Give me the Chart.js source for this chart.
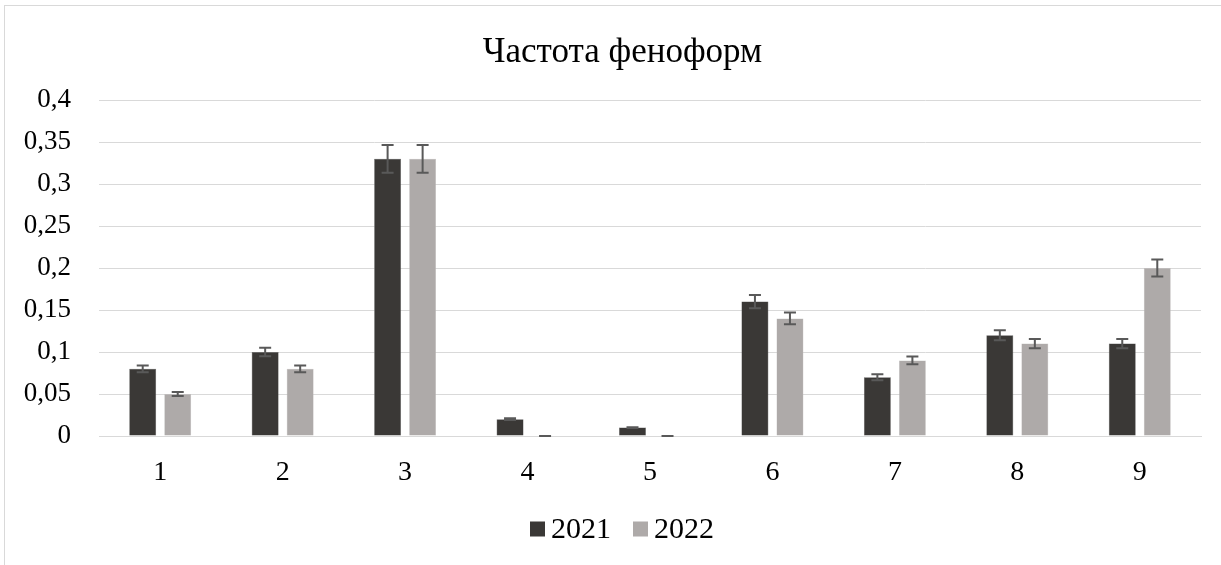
<!DOCTYPE html>
<html><head><meta charset="utf-8">
<script src="https://cdn.jsdelivr.net/npm/chart.js@4/dist/chart.umd.min.js"></script>
<style>
html,body{margin:0;padding:0;background:#fff;overflow:hidden;width:1221px;height:565px;}
#wrap{position:absolute;left:0;top:0;width:1246px;height:565px;}
#frame{position:absolute;left:4px;top:5px;width:1240px;height:570px;border:1px solid #d9d9d9;box-sizing:border-box;}
</style></head><body>
<div id="frame"></div>
<div id="wrap"><canvas id="c" width="1246" height="565"></canvas></div>
<script>
const categories = ['1','2','3','4','5','6','7','8','9'];
const values2021 = [0.08, 0.10, 0.33, 0.02, 0.01, 0.16, 0.07, 0.12, 0.11];
const values2022 = [0.05, 0.08, 0.33, 0.00, 0.00, 0.14, 0.09, 0.11, 0.20];
const errors2021 = [0.004, 0.005, 0.0165, 0.001, 0.0005, 0.008, 0.0035, 0.006, 0.0055];
const errors2022 = [0.0025, 0.004, 0.0165, 0.0, 0.0, 0.007, 0.0045, 0.0055, 0.01];
const seriesLabels = ['2021', '2022'];
const yTicks = [0, 0.05, 0.1, 0.15, 0.2, 0.25, 0.3, 0.35, 0.4];

const serif = "'Liberation Serif', 'Times New Roman', serif";

const errorBarPlugin = {
  id: 'errorBars',
  afterDatasetsDraw(chart) {
    const ctx = chart.ctx;
    const y = chart.scales.y;
    chart.data.datasets.forEach((ds, di) => {
      const meta = chart.getDatasetMeta(di);
      meta.data.forEach((bar, i) => {
        const v = ds.data[i];
        const e = ds.errors[i];
        const x = bar.x;
        const yt = y.getPixelForValue(v + e);
        const yb = y.getPixelForValue(v - e);
        ctx.save();
        ctx.strokeStyle = '#595959';
        ctx.lineWidth = 2;
        ctx.beginPath();
        ctx.moveTo(x, yt); ctx.lineTo(x, yb);
        ctx.moveTo(x - 6, yt); ctx.lineTo(x + 6, yt);
        ctx.moveTo(x - 6, yb); ctx.lineTo(x + 6, yb);
        ctx.stroke();
        ctx.restore();
      });
    });
  }
};

// Legend drawn like the original: small square right next to the label
const legendPlugin = {
  id: 'tightLegend',
  afterDraw(chart) {
    const ctx = chart.ctx;
    const box = 15, gapBoxText = 6, gapItems = 22, cy = 529, cx = 622;
    ctx.save();
    ctx.font = '30px ' + serif;
    ctx.textBaseline = 'middle';
    ctx.textAlign = 'left';
    const items = chart.data.datasets.map(ds => ({ label: ds.label, color: ds.backgroundColor, w: ctx.measureText(ds.label).width }));
    let total = 0;
    items.forEach((it, i) => { total += box + gapBoxText + it.w + (i ? gapItems : 0); });
    let x = cx - total / 2;
    items.forEach((it, i) => {
      if (i) x += gapItems;
      ctx.fillStyle = it.color;
      ctx.fillRect(x, cy - box / 2, box, box);
      x += box + gapBoxText;
      ctx.fillStyle = '#000';
      ctx.fillText(it.label, x, cy + 1);
      x += it.w;
    });
    ctx.restore();
  }
};

new Chart(document.getElementById('c'), {
  type: 'bar',
  data: {
    labels: categories,
    datasets: [
      { label: seriesLabels[0], data: values2021, errors: errors2021, backgroundColor: '#3a3836', borderColor: '#595959', borderWidth: 0.5, categoryPercentage: 0.572, barPercentage: 0.77 },
      { label: seriesLabels[1], data: values2022, errors: errors2022, backgroundColor: '#aeaaa9', borderColor: '#c4c1c0', borderWidth: 0.5, categoryPercentage: 0.572, barPercentage: 0.77 }
    ]
  },
  plugins: [errorBarPlugin, legendPlugin],
  options: {
    responsive: false,
    animation: false,
    layout: { padding: { left: 19, right: 20, top: 10, bottom: 0 } },
    plugins: {
      title: { display: true, text: 'Частота феноформ', color: '#000', font: { family: serif, size: 35, weight: 'normal' }, padding: { top: 22, bottom: 26 } },
      legend: { display: false },
      tooltip: { enabled: false }
    },
    scales: {
      x: {
        afterFit(s) { s.height = 129; },
        grid: { display: false, drawTicks: false },
        border: { display: true, color: '#d9d9d9', width: 1 },
        ticks: { color: '#000', font: { family: serif, size: 28 }, padding: 20 }
      },
      y: {
        min: 0, max: 0.4,
        afterBuildTicks(s) { s.ticks = yTicks.map(v => ({ value: v })); },
        afterFit(s) { s.width = 80; },
        grid: { color: '#d9d9d9', lineWidth: 1, drawTicks: false },
        border: { display: false },
        ticks: { color: '#000', font: { family: serif, size: 27 }, padding: 28,
          callback: v => String(Math.round(v * 100) / 100).replace('.', ',') }
      },
      ySpacer: {
        position: 'right', min: 0, max: 1,
        afterFit(s) { s.width = 25; },
        grid: { display: false, drawTicks: false },
        border: { display: false },
        ticks: { display: false }
      }
    }
  }
});
</script>
</body></html>
